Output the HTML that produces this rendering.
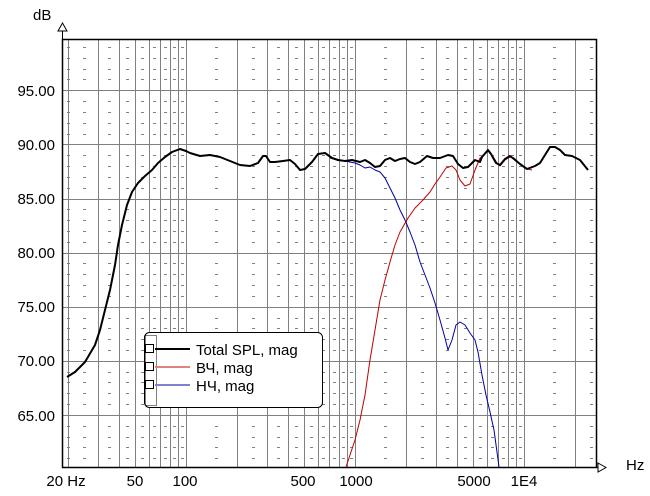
<!DOCTYPE html>
<html><head><meta charset="utf-8"><style>
body{margin:0;background:#fff;width:650px;height:496px;overflow:hidden}
svg{display:block}
text{font-family:"Liberation Sans",sans-serif;fill:#000}
</style></head><body>
<svg width="650" height="496" viewBox="0 0 650 496" xmlns="http://www.w3.org/2000/svg">
<g id="grid" stroke="#808080" stroke-width="1"></g>
<g id="dots" stroke="#808080" stroke-width="1"></g>
<rect x="62.5" y="39.5" width="534" height="428" fill="none" stroke="#000" stroke-width="1.5"/>
<line x1="596" y1="467.5" x2="605" y2="467.5" stroke="#000"/>
<path d="M598,463 L606,467.5 L598,472 Z" fill="#fff" stroke="#000"/>
<line x1="62.5" y1="39" x2="62.5" y2="28" stroke="#000"/>
<path d="M58,31 L62.5,23 L67,31 Z" fill="#fff" stroke="#000"/>
<text x="33" y="20" font-size="15">dB</text>
<text x="626" y="470" font-size="15">Hz</text>
<g font-size="15" text-anchor="end">
<text x="55" y="96">95.00</text><text x="55" y="150">90.00</text><text x="55" y="204">85.00</text>
<text x="55" y="258">80.00</text><text x="55" y="312">75.00</text><text x="55" y="366">70.00</text><text x="55" y="421">65.00</text>
</g>
<g font-size="15" text-anchor="middle">
<text x="66" y="486">20 Hz</text><text x="135" y="486">50</text><text x="185" y="486">100</text>
<text x="303" y="486">500</text><text x="356" y="486">1000</text><text x="474" y="486">5000</text><text x="524" y="486">1E4</text>
</g>
<g fill="none" stroke-linejoin="round">
<polyline stroke="#0000a0" stroke-width="1" points="330,158 340,160 350,162 355,163 360,165 365,168 370,167 375,170 380,172 385,178 390,188 395,198 400,210 405,220 410,232 415,245 420,262 425,275 430,288 435,303 440,320 445,338 448,350 452,340 456,325 460,322 465,325 470,333 475,340 478,352 482,375 486,395 490,412 494,430 497,452 499,467"/>
<polyline stroke="#c00000" stroke-width="1" points="346,467 350,455 355,440 360,420 365,395 370,360 375,330 380,300 385,280 390,262 395,245 400,232 408,218 415,208 423,200 430,192 435,184 440,177 446,168 452,166 456,170 460,180 465,186 470,184 475,170 480,158 485,154 488,151 492,155 497,163 500,166 505,160 510,157 514,158 520,164 527,169 532,170"/>
<polyline stroke="#000" stroke-width="2" points="67,377 75,372 85,362 95,345 100,330 105,310 110,290 115,265 118,245 122,225 127,205 132,192 138,183 145,176 152,170 158,163 165,157 172,152 180,149 186,151 190,153 200,156 210,155 220,157 230,161 240,165 250,166 258,163 263,156 266,156 270,162 275,162 283,161 290,160 295,164 300,170 305,169 312,162 318,154 325,153 332,158 338,160 345,161 352,160 360,162 365,160 370,163 375,167 380,166 385,160 390,158 395,161 400,159 405,158 410,162 415,164 420,162 427,156 433,158 440,158 448,155 453,156 458,164 463,168 468,167 472,163 475,160 480,162 482,157 488,150 491,154 496,163 500,165 505,159 510,156 514,159 520,164 527,169 535,166 540,163 545,155 550,147 555,147 560,150 565,155 572,156 580,160 588,170"/>
</g>
<rect x="144.5" y="332.5" width="178" height="75" rx="5" fill="#fff" stroke="#000"/>
<rect x="145.5" y="335.5" width="11" height="70" fill="none" stroke="#000" stroke-dasharray="1,1"/>
<rect x="145.5" y="344.5" width="8" height="8" fill="#fff" stroke="#000"/>
<rect x="145.5" y="362.5" width="8" height="8" fill="#fff" stroke="#000"/>
<rect x="145.5" y="380.5" width="8" height="8" fill="#fff" stroke="#000"/>
<line x1="155" y1="349" x2="190" y2="349" stroke="#000" stroke-width="2"/>
<line x1="155" y1="367" x2="190" y2="367" stroke="#c00000"/>
<line x1="155" y1="385" x2="190" y2="385" stroke="#0000a0"/>
<g font-size="15"><text x="196" y="355">Total SPL, mag</text><text x="196" y="373">ВЧ, mag</text><text x="196" y="391">НЧ, mag</text></g>
</svg>
<script>
(function(){
var ns="http://www.w3.org/2000/svg";
function X(f){return 355+169*Math.log10(f/1000);}
function Y(d){return 90.3+(95-d)*10.82;}
var g=document.getElementById('grid'),dg=document.getElementById('dots');
function ln(p,a,b,c,d){var l=document.createElementNS(ns,'line');l.setAttribute('x1',a);l.setAttribute('y1',b);l.setAttribute('x2',c);l.setAttribute('y2',d);p.appendChild(l);}
var majors=[],dx=[];
[10,100,1000,10000].forEach(function(dec){for(var k=1;k<10;k++){var f=dec*k;if(f>=20&&f<=27000)majors.push(f);var h=dec*(k+0.5);if(h>=20&&h<=27000)dx.push(h);}});
majors.push(20000);
majors.forEach(function(f){var x=Math.round(X(f))+0.5;ln(g,x,40,x,467);});
[95,90,85,80,75,70,65].forEach(function(d){var y=Math.round(Y(d))+0.5;ln(g,62,y,596,y);});
dx.push(20);
for(var d=61;d<100;d++){if(d%5==0)continue;var y=Math.round(Y(d))+0.5;if(y<41||y>466)continue;
dx.forEach(function(f){var x=Math.round(X(f));ln(dg,x-1,y,x+2,y);});}
})();
</script>
</body></html>
